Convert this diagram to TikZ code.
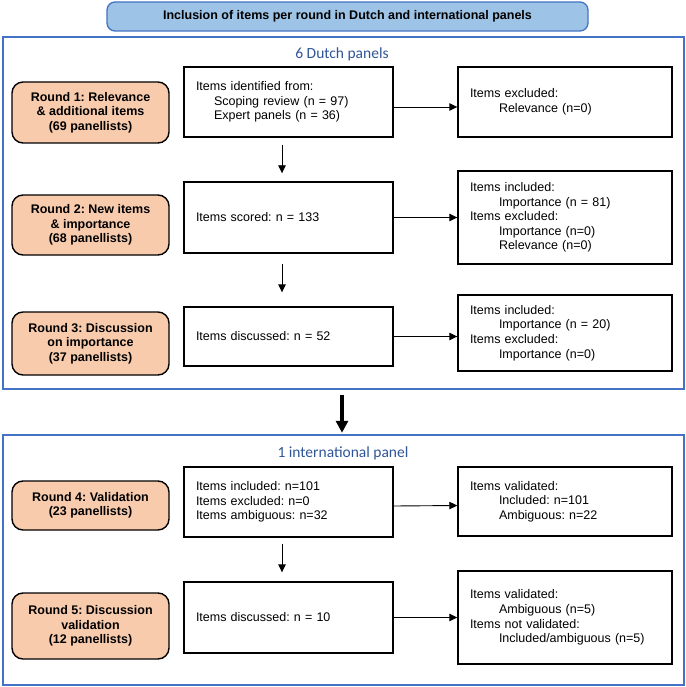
\documentclass[tikz,border=0pt]{standalone}
\usepackage{fontspec}
\setmainfont{Liberation Sans}
\newfontfamily\calibri{Carlito}
\usetikzlibrary{arrows.meta}
\definecolor{peach}{HTML}{F8CBAD}
\definecolor{skyfill}{HTML}{9DC3E6}
\definecolor{panelblue}{HTML}{4472C4}
\definecolor{labelblue}{HTML}{2F5597}
\newcommand{\indm}{\hspace*{18pt}}
\newcommand{\indr}{\hspace*{29pt}}
\frenchspacing

\tikzset{
  txt/.style={font=\fontsize{12.5}{14.6}\selectfont},
  titlebox/.style={draw=panelblue, line width=1.3pt, fill=skyfill, rounded corners=8pt,
    minimum width=481pt, minimum height=29pt, font=\fontsize{12.5}{14.6}\selectfont\bfseries},
  panel/.style={draw=panelblue, line width=2.5pt, minimum width=681pt},
  panellabel/.style={anchor=base, text=labelblue, font=\calibri\fontsize{15.5}{18}\selectfont},
  roundbox/.style={draw=black, line width=1.4pt, fill=peach, rounded corners=11pt, align=center,
    minimum width=157pt, inner sep=0pt, font=\fontsize{12.5}{14.5}\selectfont\bfseries},
  midbox/.style={txt, draw=black, line width=1.4pt, align=left, text width=185pt,
    inner xsep=12pt, inner ysep=0pt},
  outbox/.style={midbox, text width=190pt},
  thinarrow/.style={-{Triangle[length=8pt,width=7.5pt]}, line width=0.9pt},
  bigarrow/.style={-{Triangle[length=12pt,width=12pt]}, line width=3.5pt}
}

\begin{document}
\begin{tikzpicture}[x=1pt,y=-1pt]
  \useasboundingbox (0,0) rectangle (685,687);

  % heading and the two panels
  \node[titlebox] (title) at (347.5,16.5) {Inclusion of items per round in Dutch and international panels};
  \node[panel, minimum height=352pt] (dutch) at (343.5,213) {};
  \node[panel, minimum height=250pt] (intl) at (343.5,560) {};
  \node[panellabel] (dutchlabel) at (342,59) {6 Dutch panels};
  \node[panellabel] (intllabel) at (343,457) {1 international panel};

  % rounds 1-3
  \node[roundbox, minimum height=61pt] (r1) at (90.5,112.5) {Round 1: Relevance\\\& additional items\\(69 panellists)};
  \node[midbox, minimum height=70pt] (m1) at (288.5,102) {Items identified from:\\\indm Scoping review (n = 97)\\\indm Expert panels (n = 36)};
  \node[outbox, minimum height=70pt] (e1) at (565,102) {Items excluded:\\\indr Relevance (n=0)};

  \node[roundbox, minimum height=60pt] (r2) at (90.5,225) {Round 2: New items\\\& importance\\(68 panellists)};
  \node[midbox, minimum height=71pt] (m2) at (288.5,217.5) {Items scored: n = 133};
  \node[outbox, minimum height=93pt] (e2) at (565,217.5) {Items included:\\\indr Importance (n = 81)\\Items excluded:\\\indr Importance (n=0)\\\indr Relevance (n=0)};

  \node[roundbox, minimum height=63pt] (r3) at (90.5,343.5) {Round 3: Discussion\\on importance\\(37 panellists)};
  \node[midbox, minimum height=59pt] (m3) at (288.5,336.5) {Items discussed: n = 52};
  \node[outbox, minimum height=76pt] (e3) at (565,333) {Items included:\\\indr Importance (n = 20)\\Items excluded:\\\indr Importance (n=0)};

  % rounds 4-5
  \node[roundbox, minimum height=49pt] (r4) at (90.5,505.5) {Round 4: Validation\\(23 panellists)};
  \node[midbox, minimum height=70pt] (m4) at (288.5,502) {Items included: n=101\\Items excluded: n=0\\Items ambiguous: n=32};
  \node[outbox, minimum height=69pt] (e4) at (565,501.5) {Items validated:\\\indr Included: n=101\\\indr Ambiguous: n=22};

  \node[roundbox, minimum height=66pt] (r5) at (90.5,626) {Round 5: Discussion\\validation\\(12 panellists)};
  \node[midbox, minimum height=71pt] (m5) at (288.5,617.5) {Items discussed: n = 10};
  \node[outbox, minimum height=93pt] (e5) at (565,617.5) {Items validated:\\\indr Ambiguous (n=5)\\Items not validated:\\\indr Included/ambiguous (n=5)};

  % arrows
  \draw[thinarrow] ([yshift=-5pt]m1.east) -- ([yshift=-5pt]e1.west);
  \draw[thinarrow] (m2.east) -- (e2.west);
  \draw[thinarrow] (m3.east) -- (m3.east -| e3.west);
  \draw[thinarrow] ([yshift=-4pt]m4.east) -- ([yshift=-4pt]e4.west);
  \draw[thinarrow] (m5.east) -- (e5.west);

  \draw[thinarrow, shorten <=7pt, shorten >=8pt] ([xshift=-6.5pt]m1.south) -- ([xshift=-6.5pt]m1.south |- m2.north);
  \draw[thinarrow, shorten <=10pt, shorten >=14pt] ([xshift=-6.5pt]m2.south) -- ([xshift=-6.5pt]m2.south |- m3.north);
  \draw[thinarrow, shorten <=6pt, shorten >=9pt] ([xshift=-6.5pt]m4.south) -- ([xshift=-6.5pt]m4.south |- m5.north);

  \draw[bigarrow, shorten <=5pt, shorten >=1pt] ([xshift=-1.5pt]dutch.south) -- ([xshift=-1.5pt]intl.north);
\end{tikzpicture}
\end{document}
